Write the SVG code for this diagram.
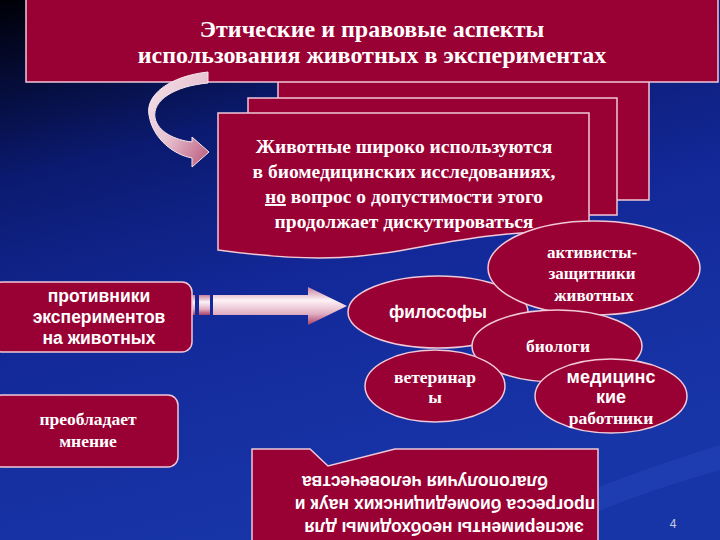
<svg xmlns="http://www.w3.org/2000/svg" width="720" height="540" viewBox="0 0 720 540">
<defs>
<linearGradient id="bg" x1="0" y1="0" x2="0.35" y2="1">
<stop offset="0" stop-color="#000006"/>
<stop offset="0.3" stop-color="#0b1a70"/>
<stop offset="0.6" stop-color="#13299a"/>
<stop offset="1" stop-color="#1835a8"/>
</linearGradient>
<linearGradient id="curv" x1="0" y1="0" x2="1" y2="1">
<stop offset="0" stop-color="#f4e4ea"/>
<stop offset="0.5" stop-color="#e8c4d2"/>
<stop offset="1" stop-color="#b85478"/>
</linearGradient>
<linearGradient id="barr" x1="0" y1="0" x2="0" y2="1">
<stop offset="0" stop-color="#c9809e"/>
<stop offset="0.35" stop-color="#fdf2f6"/>
<stop offset="0.7" stop-color="#e2b0c4"/>
<stop offset="1" stop-color="#a8406a"/>
</linearGradient>
<style>
.box{fill:#990033;stroke:#f0c8d8;stroke-width:1.5}
.ser{font-family:"Liberation Serif","Times New Roman",serif;font-weight:bold;fill:#ffffff;text-anchor:middle}
.san{font-family:"Liberation Sans",Arial,sans-serif;font-weight:bold;fill:#ffffff;text-anchor:middle}
</style>
</defs>
<rect x="0" y="0" width="720" height="540" fill="url(#bg)"/>
<path d="M470,540 C560,500 640,470 720,445 L720,470 C650,490 580,515 540,540 Z" fill="#2a4cc0" opacity="0.35"/>

<g id="stack-back"><rect class="box" x="278" y="80" width="371" height="120"/></g>
<g id="stack-mid"><rect class="box" x="248" y="98" width="369" height="117"/></g>

<g id="title">
<rect class="box" x="26" y="-2" width="692" height="84"/>
<text class="ser" x="372" y="37" font-size="24">Этические и правовые аспекты</text>
<text class="ser" x="372" y="63" font-size="24">использования животных в экспериментах</text>
</g>

<g id="main">
<path class="box" d="M218,113 H589 V230.6 C403.5,230.6 403.5,275.8 218,250 Z"/>
<text class="ser" x="404" y="153" font-size="19.5">Животные широко используются</text>
<text class="ser" x="404" y="178" font-size="19.5">в биомедицинских исследованиях,</text>
<text class="ser" x="404" y="203" font-size="19.5"><tspan text-decoration="underline">но</tspan> вопрос о допустимости этого</text>
<text class="ser" x="404" y="228" font-size="19.5">продолжает дискутироваться</text>
</g>

<g id="connectors">
<path d="M208,72 C170,76 145,95 149,115 C153,140 175,155 192,158 L192,167 L209,152 L192,137 L192,142 C175,140 158,132 155,118 C152,100 175,86 208,83 Z" fill="url(#curv)" stroke="#f6e6ec" stroke-width="1"/>
<rect x="190" y="295" width="5" height="20" fill="url(#barr)"/>
<rect x="199" y="295" width="11" height="20" fill="url(#barr)"/>
<path d="M213,295 H308 V287 L347,306 L308,325 V315 H213 Z" fill="url(#barr)"/>
</g>

<g id="opponents">
<rect class="box" x="-8" y="282" width="200" height="70" rx="10"/>
<text class="san" x="99" y="302" font-size="17.5">противники</text>
<text class="san" x="99" y="323" font-size="17.5">экспериментов</text>
<text class="san" x="99" y="344" font-size="17.5">на животных</text>
</g>

<g id="opinion">
<rect class="box" x="-8" y="395" width="186" height="72" rx="10"/>
<text class="ser" x="88" y="425" font-size="17.5">преобладает</text>
<text class="ser" x="88" y="447" font-size="17.5">мнение</text>
</g>

<g id="philosophers">
<ellipse class="box" cx="438" cy="312" rx="90" ry="36"/>
<text class="san" x="438" y="318" font-size="17.5">философы</text>
</g>
<g id="activists">
<ellipse class="box" cx="594" cy="268" rx="106" ry="47"/>
<text class="ser" x="592" y="258" font-size="17">активисты-</text>
<text class="ser" x="592" y="279" font-size="17">защитники</text>
<text class="ser" x="594" y="301" font-size="17">животных</text>
</g>
<g id="biologists">
<ellipse class="box" cx="557" cy="346" rx="85" ry="36"/>
<text class="ser" x="558" y="352" font-size="17.5">биологи</text>
</g>
<g id="vets">
<ellipse class="box" cx="435" cy="386" rx="70" ry="36"/>
<text class="ser" x="435" y="383" font-size="17.5">ветеринар</text>
<text class="ser" x="435" y="403" font-size="17.5">ы</text>
</g>
<g id="medics">
<ellipse class="box" cx="611" cy="396" rx="76" ry="37"/>
<text class="san" x="611" y="383" font-size="18">медицинс</text>
<text class="san" x="611" y="403" font-size="18">кие</text>
<text class="ser" x="611" y="424" font-size="17.5">работники</text>
</g>

<g id="conclusion">
<path class="box" d="M252,449 H310 L328,466 L395,449 H598 V545 H252 Z"/>
<g transform="rotate(180 425 495)">
<text class="san" x="406" y="468" font-size="17.5">эксперименты необходимы для</text>
<text class="san" x="405" y="491" font-size="17.5">прогресса биомедицинских наук и</text>
<text class="san" x="425" y="514" font-size="17.5">благополучия человечества</text>
</g>
</g>

<text x="673" y="528" font-family="Liberation Sans, Arial, sans-serif" font-size="12" fill="#c8cce0" text-anchor="middle">4</text>
</svg>
